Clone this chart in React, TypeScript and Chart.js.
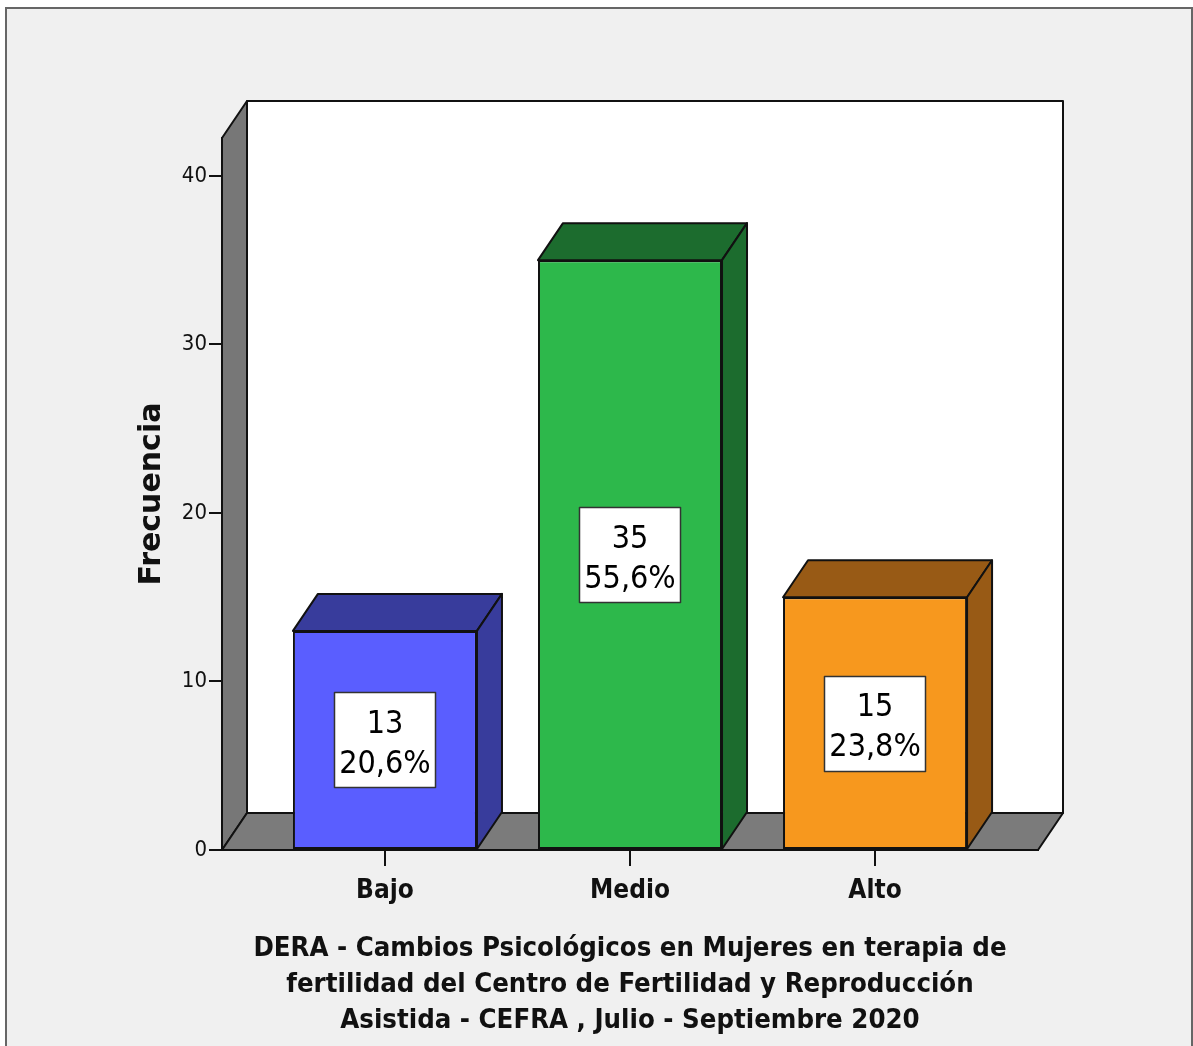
import React, { useEffect, useRef } from "react";
import { Chart, registerables } from "chart.js";

Chart.register(...registerables);

const categories = ["Bajo", "Medio", "Alto"];
const counts = [13, 35, 15];
const percentLabels = ["20,6%", "55,6%", "23,8%"];
const yTicks = [0, 10, 20, 30, 40];
const frontColors = ["#5a5eff", "#2db84b", "#f7981e"];
const shadeColors = ["#383c9c", "#1c6c2e", "#985a15"];
const yTitle = "Frecuencia";
const xTitle = [
  "DERA - Cambios Psicológicos en Mujeres en terapia de",
  "fertilidad del Centro de Fertilidad y Reproducción",
  "Asistida - CEFRA , Julio - Septiembre 2020",
];

const NARROW = '"Liberation Sans Narrow", "Arial Narrow", "DejaVu Sans Condensed", sans-serif';
const DX = 25;
const DY = -37;

function poly(ctx: CanvasRenderingContext2D, pts: number[][], fill: string) {
  ctx.beginPath();
  ctx.moveTo(pts[0][0], pts[0][1]);
  for (let i = 1; i < pts.length; i++) ctx.lineTo(pts[i][0], pts[i][1]);
  ctx.closePath();
  ctx.fillStyle = fill;
  ctx.fill();
  ctx.stroke();
}

const threeD = {
  id: "threeD",
  beforeDraw(chart: any) {
    const { ctx, chartArea: a } = chart;
    ctx.save();
    ctx.lineJoin = "round";
    ctx.lineWidth = 2;
    ctx.strokeStyle = "#111";
    ctx.fillStyle = "#ffffff";
    ctx.beginPath();
    ctx.rect(a.left + DX, a.top + DY, a.right - a.left, a.bottom - a.top);
    ctx.fill();
    ctx.stroke();
    poly(ctx, [[a.left, a.top], [a.left + DX, a.top + DY], [a.left + DX, a.bottom + DY], [a.left, a.bottom]], "#777777");
    poly(ctx, [[a.left, a.bottom], [a.left + DX, a.bottom + DY], [a.right + DX, a.bottom + DY], [a.right, a.bottom]], "#7b7b7b");
    ctx.restore();
  },
  afterDatasetsDraw(chart: any) {
    const { ctx } = chart;
    const meta = chart.getDatasetMeta(0);
    ctx.save();
    ctx.lineJoin = "round";
    meta.data.forEach((bar: any, i: number) => {
      const { x, y, base, width } = bar.getProps(["x", "y", "base", "width"], true);
      const l = x - width / 2;
      const r = x + width / 2;
      ctx.lineWidth = 2;
      ctx.strokeStyle = "#111";
      poly(ctx, [[l, y], [l + DX, y + DY], [r + DX, y + DY], [r, y]], shadeColors[i]);
      poly(ctx, [[r, y], [r + DX, y + DY], [r + DX, base + DY], [r, base]], shadeColors[i]);
      // label box
      const cy = (y + base) / 2;
      ctx.font = `32px ${NARROW}`;
      const l1 = String(counts[i]);
      const l2 = percentLabels[i];
      const tw = Math.max(ctx.measureText(l1).width, ctx.measureText(l2).width);
      const bw = tw + 10;
      const bh = 95;
      ctx.fillStyle = "#ffffff";
      ctx.strokeStyle = "#333";
      ctx.lineWidth = 1.5;
      ctx.beginPath();
      ctx.rect(Math.round(x - bw / 2) + 0.5, Math.round(cy - bh / 2) + 0.5, Math.round(bw), bh);
      ctx.fill();
      ctx.stroke();
      ctx.fillStyle = "#000";
      ctx.textAlign = "center";
      ctx.textBaseline = "alphabetic";
      ctx.fillText(l1, x, cy - 7);
      ctx.fillText(l2, x, cy + 33);
    });
    ctx.restore();
  },
};

export default function App() {
  const ref = useRef<HTMLCanvasElement | null>(null);

  useEffect(() => {
    if (!ref.current) return;
    const chart = new Chart(ref.current, {
      type: "bar",
      data: {
        datasets: [
          {
            data: counts.map((c, i) => ({ x: i, y: c })),
            backgroundColor: frontColors,
            borderColor: "#111",
            borderWidth: 2,
            borderSkipped: false,
            categoryPercentage: 1,
            barPercentage: 0.751,
          } as any,
        ],
      },
      options: {
        animation: false,
        responsive: false,
        devicePixelRatio: 1,
        layout: { padding: { left: 0, top: 138, right: 155, bottom: 0 } },
        plugins: { legend: { display: false }, tooltip: { enabled: false } },
        scales: {
          x: {
            type: "linear",
            offset: false,
            min: -0.665,
            max: 2.665,
            afterBuildTicks: (s: any) => {
              s.ticks = categories.map((_, i) => ({ value: i }));
            },
            afterFit: (s: any) => {
              s.height = 196;
            },
            ticks: {
              callback: (v: any) => categories[v as number] ?? "",
              font: { family: NARROW, size: 26, weight: "bold" },
              color: "#111",
              padding: 10,
              autoSkip: false,
              maxRotation: 0,
            },
            grid: { offset: false, drawOnChartArea: false, drawTicks: true, tickLength: 16, color: "#111", lineWidth: 2 },
            border: { display: true, color: "#111", width: 2 },
            title: {
              display: true,
              text: xTitle,
              font: { family: NARROW, size: 27.3, weight: "bold", lineHeight: 1.32 },
              color: "#111",
              padding: { top: 0, bottom: 7 },
            },
          },
          y: {
            min: 0,
            max: 42.25,
            afterBuildTicks: (s: any) => {
              s.ticks = yTicks.map((v) => ({ value: v }));
            },
            afterFit: (s: any) => {
              s.width = 222;
            },
            ticks: { font: { family: NARROW, size: 22 }, color: "#111", padding: 2 },
            grid: { drawOnChartArea: false, drawTicks: true, tickLength: 13, color: "#111", lineWidth: 2 },
            border: { display: true, color: "#111", width: 2 },
            title: {
              display: true,
              text: yTitle,
              font: { family: "DejaVu Sans", size: 30, weight: "bold", lineHeight: 1.2 },
              color: "#111",
              padding: { top: 134, bottom: 0 },
            },
          },
        },
      } as any,
      plugins: [threeD],
    });
    return () => chart.destroy();
  }, []);

  return (
    <div style={{ position: "fixed", left: 0, top: 0, width: 1193, height: 1046, background: "#ffffff", overflow: "hidden" }}>
      <div
        style={{
          position: "absolute",
          left: 5,
          top: 7,
          width: 1188,
          height: 1060,
          background: "#f0f0f0",
          border: "2px solid #666",
          boxSizing: "border-box",
        }}
      />
      <canvas ref={ref} width={1193} height={1046} style={{ position: "absolute", left: 0, top: 0, width: 1193, height: 1046 }} />
    </div>
  );
}
